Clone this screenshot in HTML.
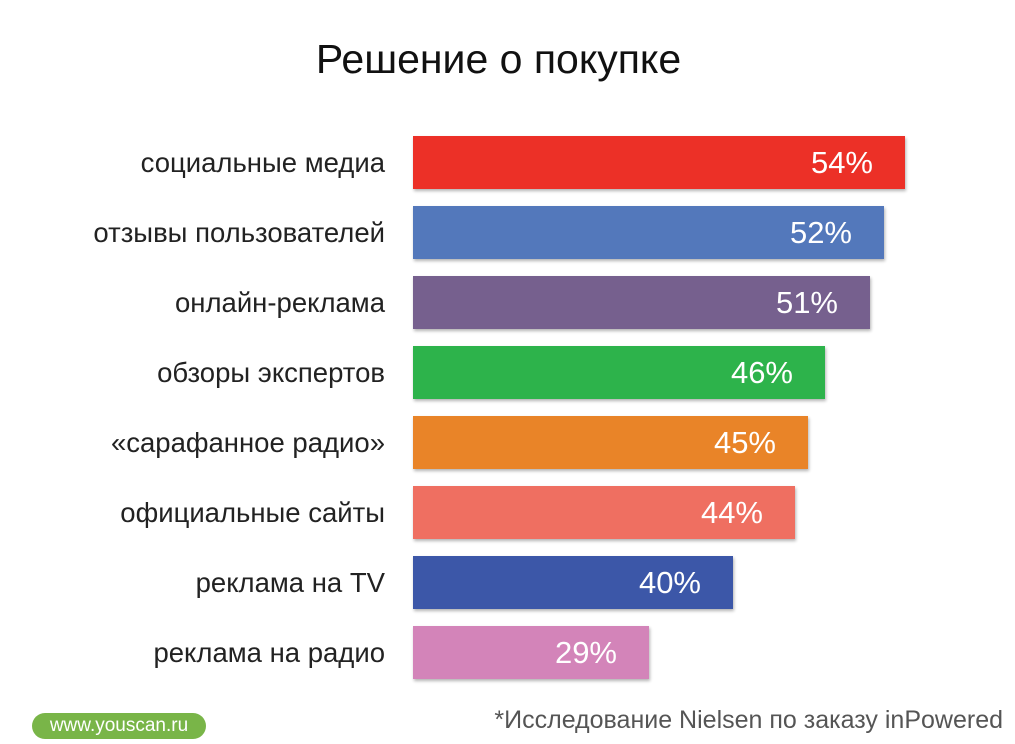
<!DOCTYPE html>
<html><head><meta charset="utf-8"><style>
body{margin:0;width:1015px;height:744px;background:#fff;position:relative;overflow:hidden;font-family:"Liberation Sans","DejaVu Sans",sans-serif;}
.t{position:absolute;left:-9px;width:1015px;top:36px;text-align:center;font-size:41px;color:#111;}
.l{position:absolute;right:630px;font-size:27.5px;color:#222;white-space:nowrap;line-height:53px;}
.b{position:absolute;left:413px;height:53px;box-shadow:1px 2px 3px rgba(0,0,0,0.3);}
.p{position:absolute;right:32px;top:0;line-height:53px;font-size:31px;color:#fff;}
.logo{position:absolute;left:32px;top:713px;width:174px;height:26px;border-radius:13px;background:#79b548;color:#fff;font-size:19px;line-height:26px;text-align:center;}
.src{position:absolute;right:12px;top:706px;font-size:25px;color:#555;}
</style></head><body>
<div class="t">Решение о покупке</div>
<div class="l" style="top:136px">социальные медиа</div>
<div class="l" style="top:206px">отзывы пользователей</div>
<div class="l" style="top:276px">онлайн-реклама</div>
<div class="l" style="top:346px">обзоры экспертов</div>
<div class="l" style="top:416px">«сарафанное радио»</div>
<div class="l" style="top:486px">официальные сайты</div>
<div class="l" style="top:556px">реклама на TV</div>
<div class="l" style="top:626px">реклама на радио</div>
<div class="b" style="top:136px;width:492px;background:#ec3027"><span class="p">54%</span></div>
<div class="b" style="top:206px;width:471px;background:#5378bb"><span class="p">52%</span></div>
<div class="b" style="top:276px;width:457px;background:#76608e"><span class="p">51%</span></div>
<div class="b" style="top:346px;width:412px;background:#2db34b"><span class="p">46%</span></div>
<div class="b" style="top:416px;width:395px;background:#e98428"><span class="p">45%</span></div>
<div class="b" style="top:486px;width:382px;background:#ef6f61"><span class="p">44%</span></div>
<div class="b" style="top:556px;width:320px;background:#3c57a8"><span class="p">40%</span></div>
<div class="b" style="top:626px;width:236px;background:#d384b9"><span class="p">29%</span></div>
<div class="logo">www.youscan.ru</div>
<div class="src">*Исследование Nielsen по заказу inPowered</div>
</body></html>
